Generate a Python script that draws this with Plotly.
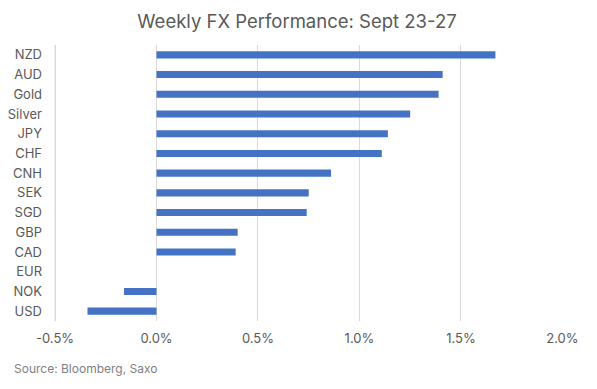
import plotly.graph_objects as go

categories = ["NZD", "AUD", "Gold", "Silver", "JPY", "CHF", "CNH", "SEK", "SGD", "GBP", "CAD", "EUR", "NOK", "USD"]
values = [1.67, 1.41, 1.39, 1.25, 1.14, 1.11, 0.86, 0.75, 0.74, 0.40, 0.39, 0.0, -0.16, -0.34]
tick_vals = [-0.5, 0.0, 0.5, 1.0, 1.5, 2.0]
tick_text = ["-0.5%", "0.0%", "0.5%", "1.0%", "1.5%", "2.0%"]

FONT = "Inter"
OFF = 8  # page body margin offset
PX = 203.2  # pixels per 1% in reference
PAD_L = 0.01  # small extra range on the left

fig = go.Figure(go.Bar(
    y=categories, x=values, orientation="h",
    marker=dict(color="#4472C4", line=dict(width=0)),
    width=0.36,
))

left = 55 - PAD_L * PX
fig.update_layout(
    width=597, height=389,
    margin=dict(l=left - OFF, r=34 + OFF, t=45 - OFF, b=68 + OFF, autoexpand=False),
    paper_bgcolor="white", plot_bgcolor="white",
    font=dict(family=FONT, size=13, color="#595959"),
    title=dict(text="Weekly FX Performance: Sept 23-27", x=(297 - OFF) / 597, xanchor="center",
               y=1 - (22 - OFF) / 389, yanchor="middle",
               font=dict(family=FONT, size=18.5, color="#595959")),
    showlegend=False,
)
pw = 597 - (left - OFF) - (34 + OFF)
fig.update_xaxes(range=[-0.5 - PAD_L, 2.003], tickvals=tick_vals, ticktext=tick_text,
                 showgrid=True, gridcolor="#d9d9d9", gridwidth=1, automargin=False,
                 zeroline=False, showline=False, ticks="", ticklabelstandoff=8)
fig.update_yaxes(autorange="reversed", categoryorder="array", categoryarray=categories,
                 showgrid=False, zeroline=False, showline=False, ticks="", automargin=False,
                 ticklabelstandoff=10)

# leftmost gridline (plotly skips it near the plot edge)
fig.add_shape(type="line", xref="x", yref="paper", x0=tick_vals[0], x1=tick_vals[0],
              y0=0, y1=1, line=dict(color="#d9d9d9", width=1), layer="below")

fig.add_annotation(text="Source: Bloomberg, Saxo", xref="paper", yref="paper",
                   x=-(left - 12) / pw, y=-(368 - 321) / 276, xanchor="left", yanchor="middle",
                   showarrow=False, font=dict(family=FONT, size=12, color="#7f7f7f"))

fig.write_html("out.html")
